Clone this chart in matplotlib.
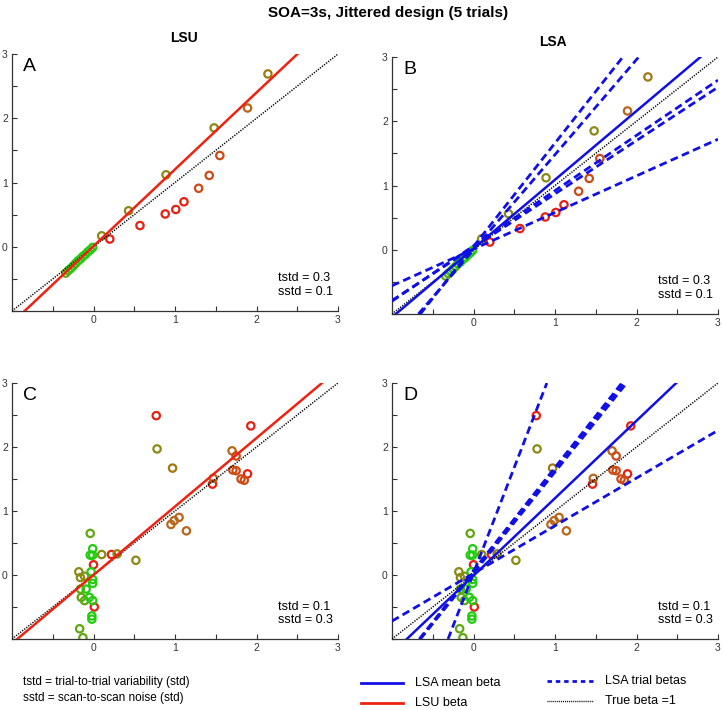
import matplotlib.pyplot as plt
from matplotlib.lines import Line2D

plt.rcParams['font.family'] = ['Liberation Sans', 'DejaVu Sans']

# point colours (green -> olive -> brown -> red)
G = '#22cc11'
YG = '#5fa812'
OL = '#8a8a14'
OB = '#a07a10'
BR = '#b8661a'
OR = '#cc4a14'
RD = '#e82012'

# top row (A, B): tstd = 0.3, sstd = 0.1
ab_x = [-0.34, -0.31, -0.28, -0.25, -0.22, -0.19, -0.16, -0.13, -0.10, -0.07, -0.04, -0.01,
        2.14, 1.48, 0.89, 0.43, 0.10,
        1.89, 1.55, 1.42, 1.29, 1.11, 1.01, 0.88, 0.57, 0.20]
ab_y = [-0.41, -0.37, -0.34, -0.30, -0.26, -0.22, -0.19, -0.15, -0.12, -0.08, -0.05, -0.01,
        2.69, 1.85, 1.12, 0.56, 0.17,
        2.16, 1.42, 1.11, 0.91, 0.70, 0.58, 0.51, 0.33, 0.12]
ab_col = [YG, YG, G, G, YG, G, G, G, G, G, G, G,
          OB, OL, OL, OL, OL,
          BR, OR, OR, OR, RD, RD, RD, RD, RD]

ab_lsu = (1.195, 0.01)   # slope, intercept
ab_lsa = (1.07, 0.02)
ab_trial_slope = [0.57, 0.86, 0.83, 1.61, 1.48]
ab_trial_icpt = [0.01, 0.06, 0.04, 0.05, 0.0]

# bottom row (C, D): tstd = 0.1, sstd = 0.3
cd_x = [0.77, 1.93, 1.46, 0.22, 0.00, 0.01,
        0.78, 0.97, 0.52, 0.29, 0.10, -0.04, -0.18, -0.16, -0.11, -0.16, -0.15, -0.11, -0.17, -0.13,
        1.70, 1.75, 1.47, 1.71, 1.75, 1.89, 1.81, 1.85, 0.95, 0.99, 1.05, 1.14,
        -0.01, -0.04, -0.01, -0.03, -0.01, -0.01, -0.09, -0.05, -0.01, -0.02, -0.02]
cd_y = [2.49, 2.33, 1.42, 0.32, 0.16, -0.50,
        1.97, 1.67, 0.23, 0.33, 0.32, 0.65, 0.05, -0.04, -0.02, -0.22, -0.35, -0.40, -0.84, -0.98,
        1.94, 1.86, 1.51, 1.64, 1.63, 1.58, 1.50, 1.48, 0.79, 0.85, 0.90, 0.69,
        0.41, 0.31, 0.31, 0.05, -0.07, -0.13, -0.22, -0.35, -0.40, -0.64, -0.69]
cd_col = [RD, RD, RD, RD, RD, RD,
          OL, OB, OL, OL, OL, YG, OL, OL, OL, YG, YG, YG, YG, YG,
          BR, OR, BR, OR, OR, RD, OR, OR, BR, BR, BR, BR,
          G, G, G, G, G, G, G, G, G, G, G]

cd_lsu = (1.07, 0.0)
cd_lsa = (1.21, -0.01)
cd_trial_slope = [3.3, 1.61, 1.58, 0.745, 1.60]
cd_trial_icpt = [0.03, 0.07, 0.03, 0.025, 0.05]

ticks = [-1, -0.5, 0, 0.5, 1, 1.5, 2, 2.5, 3]
tick_labels = ['', '', '0', '', '1', '', '2', '', '3']

BLUE = '#1010e6'
RED = '#ee2211'
W, H = 723, 710


def setup(ax, letter, note):
    ax.set_xlim(-1, 3)
    ax.set_ylim(-1, 3)
    ax.set_xticks(ticks)
    ax.set_yticks(ticks)
    ax.set_xticklabels(tick_labels)
    ax.set_yticklabels(tick_labels)
    for s in ['top', 'right']:
        ax.spines[s].set_visible(False)
    for s in ['left', 'bottom']:
        ax.spines[s].set_color('#333333')
        ax.spines[s].set_linewidth(0.9)
    ax.tick_params(direction='in', length=3.5, width=0.8, color='#333333',
                   labelsize=7.5, labelcolor='#333333', pad=3)
    ax.text(0.034, 0.985, letter, transform=ax.transAxes, fontsize=14, va='top', ha='left')
    ax.text(0.815, 0.15, note, transform=ax.transAxes, fontsize=9, va='top', ha='left',
            linespacing=1.15)


def draw_points(ax, x, y, c):
    ax.scatter(x, y, s=28, facecolors='none', edgecolors=c, linewidths=1.6, zorder=2)


def draw_true(ax):
    ax.axline((0, 0), slope=1, color='black', lw=1.1, linestyle=(0, (0.8, 0.9)), zorder=3)


def draw_trials(ax, slopes, icpts):
    for m, b in zip(slopes, icpts):
        ax.axline((0, b), slope=m, color=BLUE, lw=2.0, linestyle=(0, (2.8, 1.6)), zorder=3)


fig = plt.figure(figsize=(W / 100, H / 100), dpi=100)

axA = fig.add_axes([12 / W, 1 - 311 / H, 326 / W, 257 / H])
axB = fig.add_axes([392 / W, 1 - 314 / H, 326 / W, 257 / H])
axC = fig.add_axes([12 / W, 1 - 639 / H, 326 / W, 256 / H])
axD = fig.add_axes([392 / W, 1 - 639 / H, 326 / W, 256 / H])

# A: LSU, top row
draw_points(axA, ab_x, ab_y, ab_col)
draw_true(axA)
axA.axline((0, ab_lsu[1]), slope=ab_lsu[0], color=RED, lw=1.8, zorder=4)
setup(axA, 'A', 'tstd = 0.3\nsstd = 0.1')

# B: LSA, top row
draw_points(axB, ab_x, ab_y, ab_col)
draw_true(axB)
draw_trials(axB, ab_trial_slope, ab_trial_icpt)
axB.axline((0, ab_lsa[1]), slope=ab_lsa[0], color=BLUE, lw=1.8, zorder=4)
setup(axB, 'B', 'tstd = 0.3\nsstd = 0.1')

# C: LSU, bottom row
draw_points(axC, cd_x, cd_y, cd_col)
draw_true(axC)
axC.axline((0, cd_lsu[1]), slope=cd_lsu[0], color=RED, lw=1.8, zorder=4)
setup(axC, 'C', 'tstd = 0.1\nsstd = 0.3')

# D: LSA, bottom row
draw_points(axD, cd_x, cd_y, cd_col)
draw_true(axD)
draw_trials(axD, cd_trial_slope, cd_trial_icpt)
axD.axline((0, cd_lsa[1]), slope=cd_lsa[0], color=BLUE, lw=1.8, zorder=4)
setup(axD, 'D', 'tstd = 0.1\nsstd = 0.3')

fig.text(388 / W, 1 - 13 / H, 'SOA=3s, Jittered design (5 trials)', ha='center', va='center',
         fontsize=11, fontweight='bold')
fig.text(184 / W, 1 - 38 / H, 'LSU', ha='center', va='center', fontsize=10, fontweight='bold')
fig.text(553 / W, 1 - 42 / H, 'LSA', ha='center', va='center', fontsize=10, fontweight='bold')

# bottom notes and legend
fig.text(23 / W, 1 - 682 / H, 'tstd = trial-to-trial variability (std)', fontsize=8.5, va='center')
fig.text(23 / W, 1 - 698 / H, 'sstd = scan-to-scan noise (std)', fontsize=8.5, va='center')

legend_items = [
    ((361, 403), 683, dict(color=BLUE, lw=2.0), 'LSA mean beta', 415),
    ((361, 403), 703, dict(color=RED, lw=2.0), 'LSU beta', 415),
    ((547, 593), 681, dict(color=BLUE, lw=2.0, linestyle=(0, (1.6, 1.4))), 'LSA trial betas', 605),
    ((547, 593), 701, dict(color='black', lw=1.0, linestyle=(0, (0.7, 0.7))), 'True beta =1', 605),
]
for (x0, x1), yy, style, label, tx in legend_items:
    fig.add_artist(Line2D([x0 / W, x1 / W], [1 - yy / H, 1 - yy / H], transform=fig.transFigure, **style))
    fig.text(tx / W, 1 - yy / H, label, fontsize=9, va='center')

fig.savefig('out.png', dpi=100)
